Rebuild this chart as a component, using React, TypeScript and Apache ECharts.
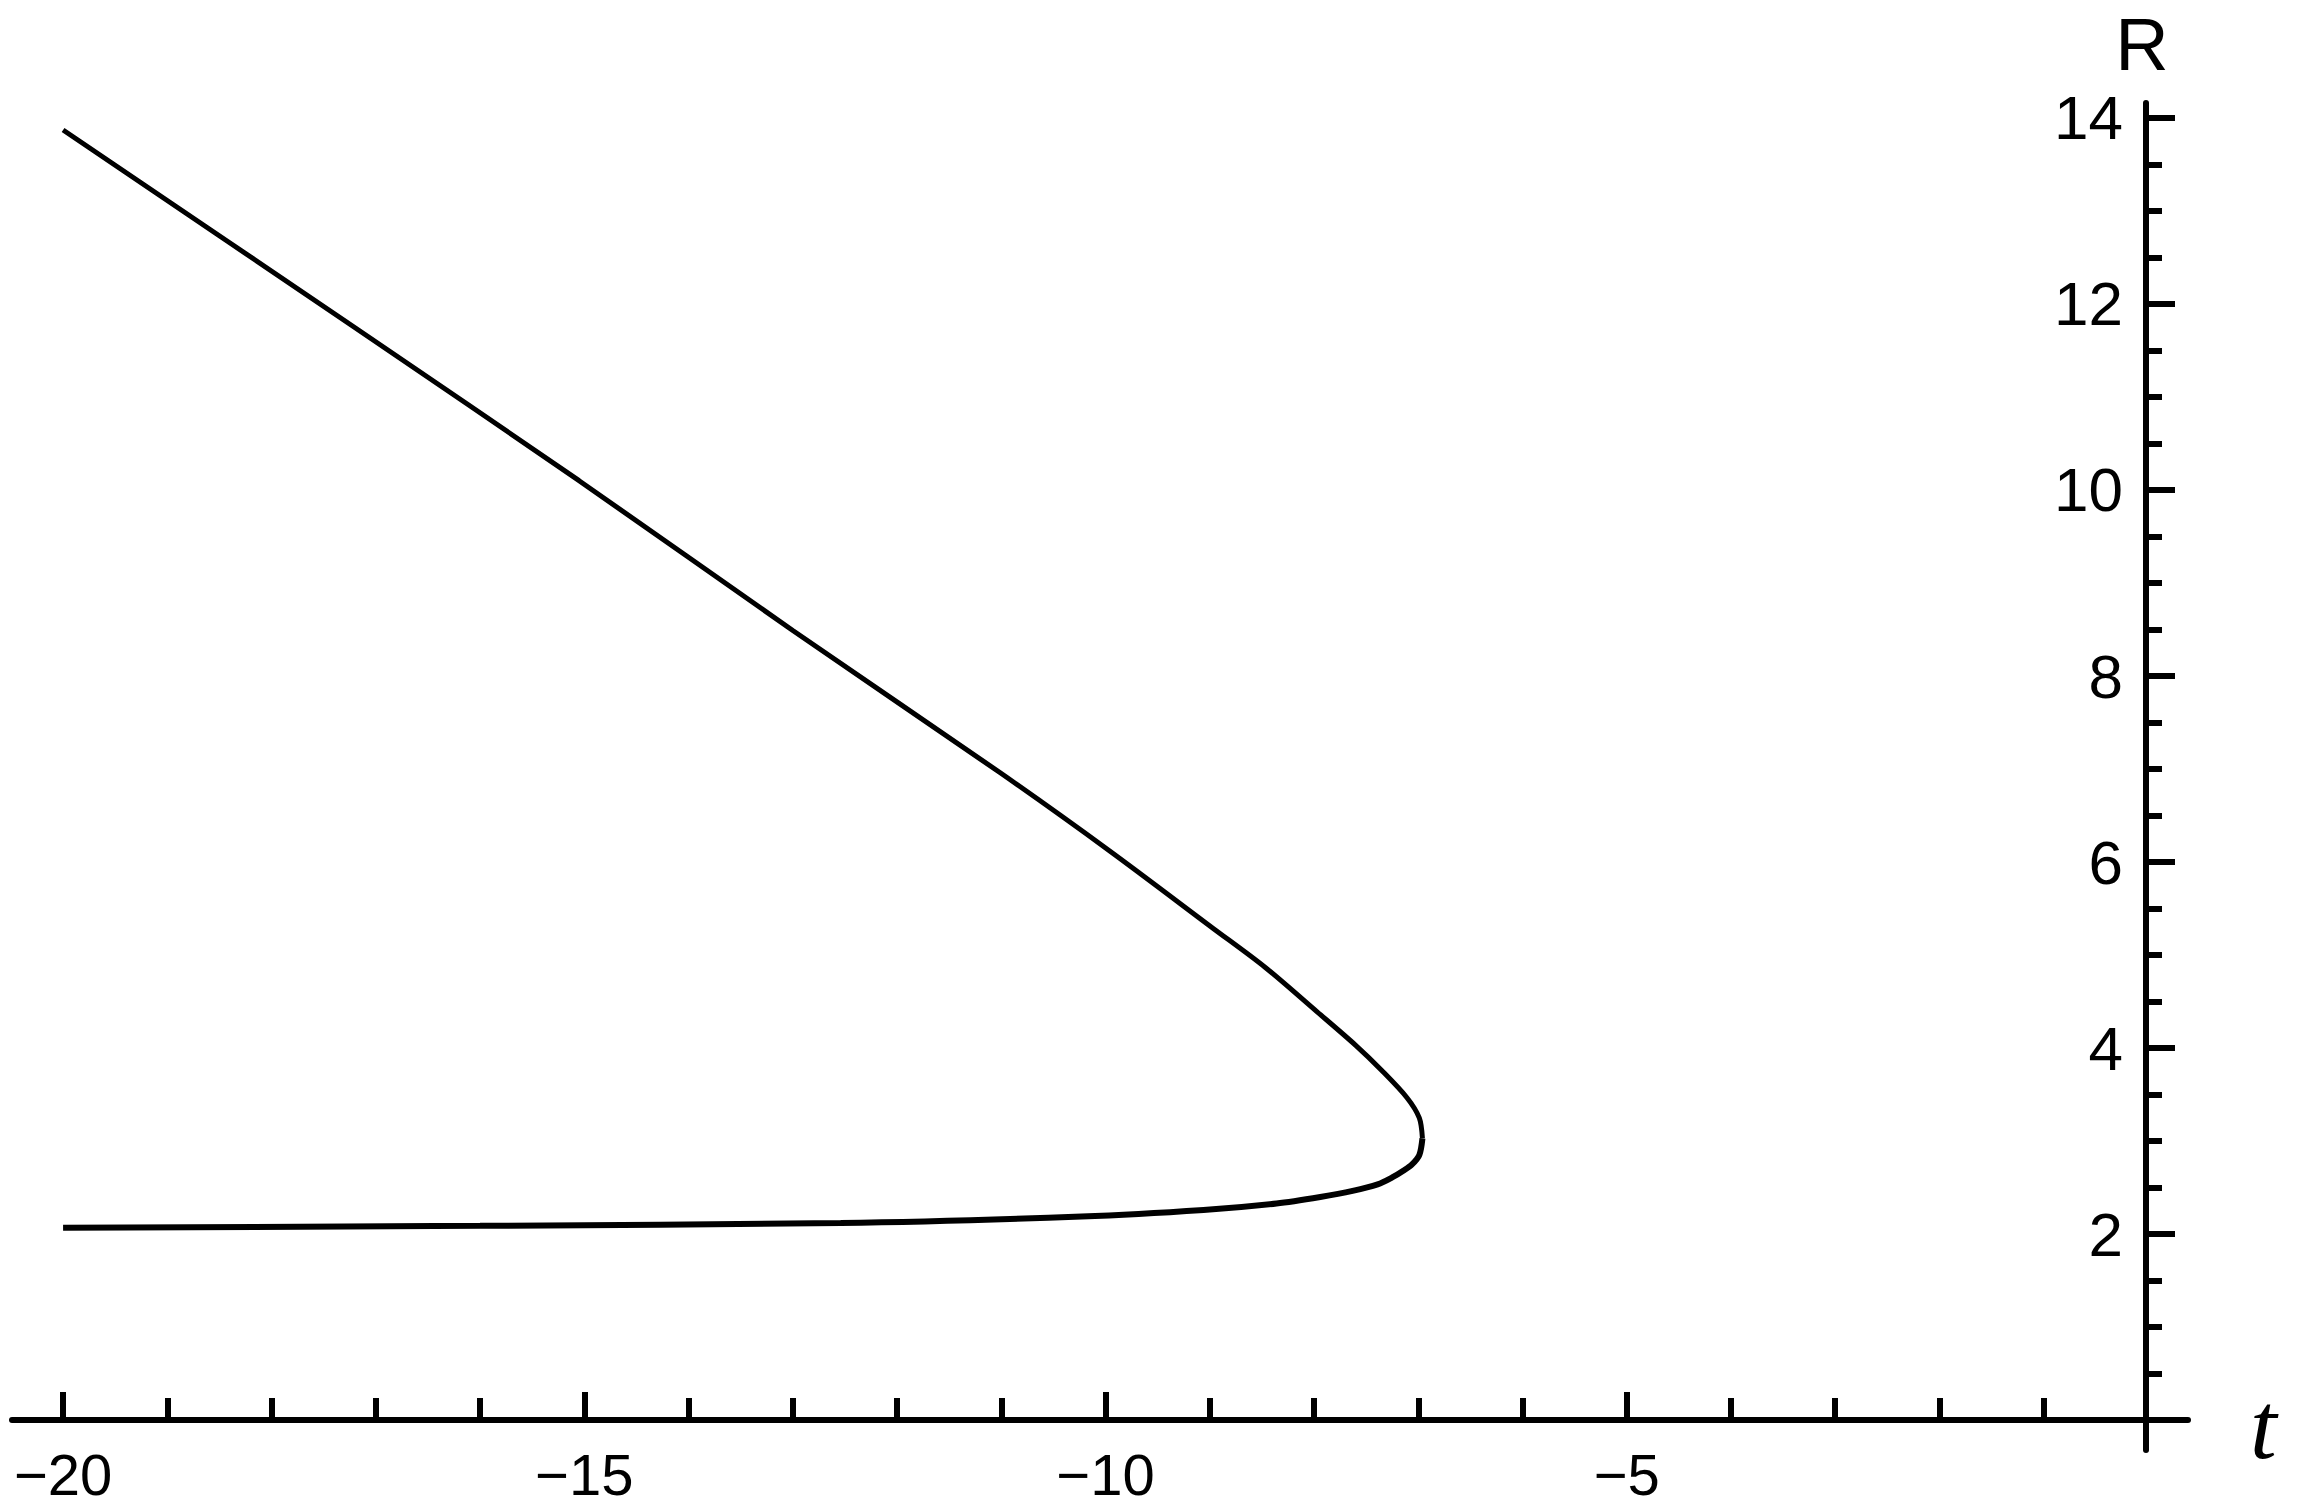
import React, { useEffect, useRef } from "react";
import * as echarts from "echarts";

// Axis ranges (t horizontal, R vertical)
const tRange = [-20.49, 0.384];
const rRange = [-0.32, 14.16];

// Tick values
const tMajorTicks = [-20, -15, -10, -5];
const tMinorTicks = [-19, -18, -17, -16, -14, -13, -12, -11, -9, -8, -7, -6, -4, -3, -2, -1];
const rMajorTicks = [2, 4, 6, 8, 10, 12, 14];
const rMinorTicks = [0.5, 1, 1.5, 2.5, 3, 3.5, 4.5, 5, 5.5, 6.5, 7, 7.5, 8.5, 9, 9.5, 10.5, 11, 11.5, 12.5, 13, 13.5];

// Lower (stable) branch, from t = -20 to the turning point
const lowerT = [-20, -16, -12.54, -10.23, -9.06, -8.36, -7.94, -7.63, -7.39, -7.25, -7.14, -7.06, -6.99, -6.96];
const lowerR = [2.07, 2.09, 2.12, 2.19, 2.26, 2.33, 2.4, 2.465, 2.535, 2.61, 2.685, 2.75, 2.85, 3.03];

// Upper branch, from the turning point back to t = -20
const upperT = [-6.96, -6.99, -7.11, -7.35, -7.6, -7.97, -8.47, -8.97, -9.96, -11.01, -13.0, -15.05, -17.22, -20];
const upperR = [3.03, 3.25, 3.47, 3.76, 4.03, 4.39, 4.87, 5.29, 6.12, 6.96, 8.49, 10.1, 11.76, 13.87];

const fmt = (v: number) => (v < 0 ? "\u2212" + Math.abs(v) : String(v));

// axis line positions inside the grid (pixels from the grid edge)
const xAxisOffset = -30;
const yAxisOffset = -2134;

export default function App() {
  const ref = useRef<HTMLDivElement>(null);
  useEffect(() => {
    if (!ref.current) return;
    const chart = echarts.init(ref.current, null, { renderer: "svg" });
    const tickStyle = { color: "#000", width: 6 };
    chart.setOption({
      animation: false,
      backgroundColor: "#ffffff",
      grid: { left: 12, right: 111, top: 103, bottom: 59, containLabel: false, outerBoundsMode: "none" },
      xAxis: [
        {
          type: "value",
          min: tRange[0],
          max: tRange[1],
          position: "bottom",
          offset: xAxisOffset,
          splitLine: { show: false },
          axisLine: { show: true, onZero: false, lineStyle: { color: "#000", width: 6 } },
          axisTick: { show: true, inside: true, length: 28, customValues: tMajorTicks, lineStyle: tickStyle },
          axisLabel: {
            show: true,
            margin: 29,
            customValues: tMajorTicks,
            formatter: fmt,
            fontFamily: "Liberation Sans",
            fontSize: 58,
            lineHeight: 50,
            color: "#000",
          },
        },
        {
          type: "value",
          min: tRange[0],
          max: tRange[1],
          position: "bottom",
          offset: xAxisOffset,
          splitLine: { show: false },
          axisLine: { show: false, onZero: false },
          axisTick: { show: true, inside: true, length: 22, customValues: tMinorTicks, lineStyle: tickStyle },
          axisLabel: { show: false },
        },
      ],
      yAxis: [
        {
          type: "value",
          min: rRange[0],
          max: rRange[1],
          position: "left",
          offset: yAxisOffset,
          splitLine: { show: false },
          axisLine: { show: true, onZero: false, lineStyle: { color: "#000", width: 6 } },
          axisTick: { show: true, inside: true, length: 29, customValues: rMajorTicks, lineStyle: tickStyle },
          axisLabel: {
            show: true,
            margin: 23,
            customValues: rMajorTicks,
            formatter: fmt,
            fontFamily: "Liberation Sans",
            fontSize: 62,
            lineHeight: 62,
            color: "#000",
          },
        },
        {
          type: "value",
          min: rRange[0],
          max: rRange[1],
          position: "left",
          offset: yAxisOffset,
          splitLine: { show: false },
          axisLine: { show: false, onZero: false },
          axisTick: { show: true, inside: true, length: 16, customValues: rMinorTicks, lineStyle: tickStyle },
          axisLabel: { show: false },
        },
      ],
      graphic: [
        {
          type: "text",
          x: 2142,
          y: 44,
          style: { text: "R", fontFamily: "Liberation Sans", fontSize: 74, lineHeight: 56, fill: "#000", align: "center", verticalAlign: "middle" },
        },
        {
          type: "text",
          x: 2250,
          y: 1425,
          style: { text: "t", fontFamily: "Liberation Serif", fontStyle: "italic", fontSize: 96, fill: "#000", align: "left", verticalAlign: "middle" },
        },
      ],
      series: [
        {
          name: "lower",
          type: "line",
          xAxisIndex: 0,
          yAxisIndex: 0,
          symbol: "none",
          smooth: 0.3,
          data: lowerT.map((t, i) => [t, lowerR[i]]),
          lineStyle: { color: "#000", width: 6 },
        },
        {
          name: "upper",
          type: "line",
          xAxisIndex: 0,
          yAxisIndex: 0,
          symbol: "none",
          smooth: 0.3,
          data: upperT.map((t, i) => [t, upperR[i]]),
          lineStyle: { color: "#000", width: 5 },
        },
      ],
    });
    return () => chart.dispose();
  }, []);
  return (
    <div
      ref={ref}
      style={{ position: "fixed", left: 0, top: 0, width: 2299, height: 1509, background: "#fff" }}
    />
  );
}
